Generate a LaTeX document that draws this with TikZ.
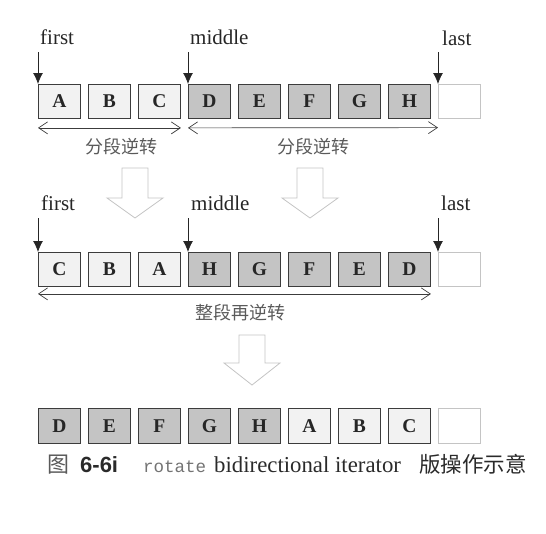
\documentclass[tikz,border=0pt]{standalone}
\usepackage{fontspec}
\setmainfont{Liberation Serif}
\setmonofont{Liberation Mono}
\newfontfamily\cjk{Noto Sans CJK SC}
\newfontfamily\sansfont{Liberation Sans}
\usetikzlibrary{arrows.meta}
\definecolor{darkfill}{HTML}{C4C4C4}
\definecolor{lightfill}{HTML}{F2F2F2}
\definecolor{boxline}{HTML}{3C3C3C}
\definecolor{hollow}{HTML}{C4C4C4}
\definecolor{labelgray}{HTML}{5A5A5A}
\definecolor{captext}{HTML}{2A2A2A}
\begin{document}
\begin{tikzpicture}[x=1pt,y=-1pt,
  cell/.style={draw=boxline, line width=0.9pt, minimum width=42pt, minimum height=34pt,
    inner sep=0pt, anchor=north west, font=\fontsize{19.5}{19.5}\selectfont\bfseries, text=black!85},
  emptycell/.style={cell, draw=hollow, fill=white, line width=0.6pt},
  ptrlabel/.style={anchor=base west, inner sep=0pt, font=\fontsize{21}{21}\selectfont, text=black!85},
  ptr/.style={-{Latex[length=11pt,width=10pt]}, line width=0.8pt, draw=black!85},
  span/.style={{Straight Barb[length=9pt,width=12pt]}-{Straight Barb[length=9pt,width=12pt]}, line width=0.7pt, draw=boxline},
  cjklabel/.style={font=\cjk\fontsize{18}{18}\selectfont, text=labelgray, inner sep=0pt},
  bigarrow/.style={draw=hollow, line width=0.8pt, fill=white, line join=miter},
  capstyle/.style={anchor=base west, inner sep=0pt, text=captext, font=\fontsize{22.8}{22.8}\selectfont}
]
\useasboundingbox (0,0) rectangle (546,533);

% ---- row 1 ----
\foreach \t/\f [count=\i from 0] in {A/lightfill,B/lightfill,C/lightfill,D/darkfill,E/darkfill,F/darkfill,G/darkfill,H/darkfill}
  \node[cell, fill=\f] (r1c\i) at ({38+50*\i},84) {\t};
\node[emptycell] (r1c8) at (438,84) {};

\node[ptrlabel] (f1) at (40,44) {first};
\node[ptrlabel] (m1) at (190,44) {middle};
\node[ptrlabel] (l1) at (442,45) {last};
\coordinate (f1s) at (38,52);
\coordinate (m1s) at (188,52);
\coordinate (l1s) at (438,52);
\draw[ptr] (f1s) -- (r1c0.north west);
\draw[ptr] (m1s) -- (r1c3.north west);
\draw[ptr] (l1s) -- (r1c8.north west);

\draw[span] ([yshift=-9pt]r1c0.south west) -- ([yshift=-9pt]r1c2.south east);
\draw[span] ([yshift=-9pt]r1c3.south west) -- ([yshift=-9pt]r1c8.south west);
\node[cjklabel] (t1) at (121,147) {分段逆转};
\node[cjklabel] (t2) at (313,147) {分段逆转};

% ---- hollow arrows 1 -> 2 ----
\foreach \cx in {135,310}
  \draw[bigarrow] (\cx-13,168) -- (\cx+13,168) -- (\cx+13,198) -- (\cx+28,198) -- (\cx,218)
    -- (\cx-28,198) -- (\cx-13,198) -- cycle;

% ---- row 2 ----
\foreach \t/\f [count=\i from 0] in {C/lightfill,B/lightfill,A/lightfill,H/darkfill,G/darkfill,F/darkfill,E/darkfill,D/darkfill}
  \node[cell, fill=\f] (r2c\i) at ({38+50*\i},252) {\t};
\node[emptycell] (r2c8) at (438,252) {};

\node[ptrlabel] (f2) at (41,210) {first};
\node[ptrlabel] (m2) at (191,210) {middle};
\node[ptrlabel] (l2) at (441,210) {last};
\coordinate (f2s) at (38,218);
\coordinate (m2s) at (188,218);
\coordinate (l2s) at (438,218);
\draw[ptr] (f2s) -- (r2c0.north west);
\draw[ptr] (m2s) -- (r2c3.north west);
\draw[ptr] (l2s) -- (r2c8.north west);

\draw[span] ([yshift=-7pt]r2c0.south west) -- ([yshift=-7pt]r2c7.south east);
\node[cjklabel] (t3) at (240,313) {整段再逆转};

% ---- hollow arrow 2 -> 3 ----
\draw[bigarrow] (252-13,335) -- (252+13,335) -- (252+13,363) -- (252+28,363) -- (252,385)
  -- (252-28,363) -- (252-13,363) -- cycle;

% ---- row 3 ----
\foreach \t/\f [count=\i from 0] in {D/darkfill,E/darkfill,F/darkfill,G/darkfill,H/darkfill,A/lightfill,B/lightfill,C/lightfill}
  \node[cell, fill=\f, minimum height=35pt] (r3c\i) at ({38+50*\i},408) {\t};
\node[emptycell, minimum height=35pt] (r3c8) at (438,408) {};

% ---- caption ----
\node[capstyle, text=labelgray, font=\cjk\fontsize{22}{22}\selectfont] (cap1) at (47,472) {图};
\node[capstyle, font=\sansfont\bfseries\fontsize{22}{22}\selectfont] (cap2) at (80,472) {6-6i};
\node[capstyle, text=black!55, font=\ttfamily\fontsize{17.5}{17.5}\selectfont] (cap3) at (143,472) {rotate};
\node[capstyle] (cap4) at (214,472) {bidirectional iterator};
\node[capstyle, font=\cjk\fontsize{21.5}{21.5}\selectfont] (cap5) at (419,472) {版操作示意};
\end{tikzpicture}
\end{document}
